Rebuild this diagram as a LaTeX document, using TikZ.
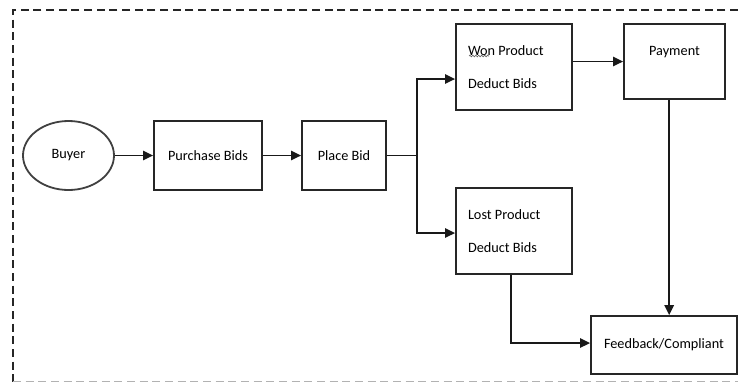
\documentclass[tikz,border=0pt]{standalone}
\usepackage{fontspec}
\setmainfont{Carlito}
\usepackage{tikz}
\usetikzlibrary{arrows.meta,shapes.geometric,decorations.pathmorphing}

\begin{document}
\begin{tikzpicture}[
  x=0.75pt, y=-0.75pt,
  font=\fontsize{10.7pt}{24.75pt}\selectfont,
  box/.style={draw=black!85, line width=1.35pt, rectangle, inner sep=0pt, align=center},
  twoline/.style={box, align=flush left, text width=92*0.75pt},
  oval/.style={draw=black!75, line width=1.35pt, ellipse, inner sep=0pt},
  flow/.style={-{Triangle[length=7.5pt,width=7pt]}, black!90, line width=1.35pt},
  frame/.style={black!85, line width=1.2pt, dash pattern=on 6pt off 3.5pt},
]
\useasboundingbox (0,0) rectangle (738,383);

% ---------- outer frame ----------
\draw[frame] (738,10) -- (13,10) -- (13,381.5);
\draw[frame, black!30] (13,381.5) -- (738,381.5);

% ---------- main row ----------
\node[oval, minimum width=91*0.75pt, minimum height=69*0.75pt] (buyer) at (68.5,155.5) {Buyer};
\node[box, minimum width=108*0.75pt, minimum height=69*0.75pt] (purch) at (208,155.5) {Purchase Bids};
\node[box, minimum width=84*0.75pt, minimum height=69*0.75pt] (place) at (344,155.5) {Place Bid};

% ---------- outcomes ----------
\node[twoline, minimum width=116*0.75pt, minimum height=86*0.75pt] (won) at (514,67) {Won Product\\Deduct Bids};
\node[twoline, minimum width=116*0.75pt, minimum height=86*0.75pt] (lost) at (514,231) {Lost Product\\Deduct Bids};
\node[box, minimum width=101*0.75pt, minimum height=75*0.75pt, text depth=16pt] (pay) at (674.5,61.5) {Payment};
\node[box, minimum width=146*0.75pt, minimum height=58*0.75pt] (feed) at (664,345) {Feedback/Compliant};

% spell-check squiggle under "Won"
\draw[black!60, line width=0.5pt, decorate, decoration={snake, amplitude=0.6pt, segment length=2.2pt}]
  (469,56) -- (489,56);

% ---------- connectors ----------
\coordinate (br) at (417,155.5);
\draw[flow] (buyer) -- (purch);
\draw[flow] (purch) -- (place);
\draw[black!90, line width=1.35pt] (place.east) -- (br);
\draw[flow] (br) |- ([yshift=-9pt]won.west);
\draw[flow] (br) |- ([yshift=-1.5pt]lost.west);
\draw[flow] (won.east |- pay.west) -- (pay.west);
\draw[flow] ([xshift=-4pt]pay.south) -- ([xshift=-4pt]pay.south |- feed.north);
\draw[flow] ([xshift=-2pt]lost.south) |- ([yshift=1.5pt]feed.west);
\end{tikzpicture}
\end{document}
